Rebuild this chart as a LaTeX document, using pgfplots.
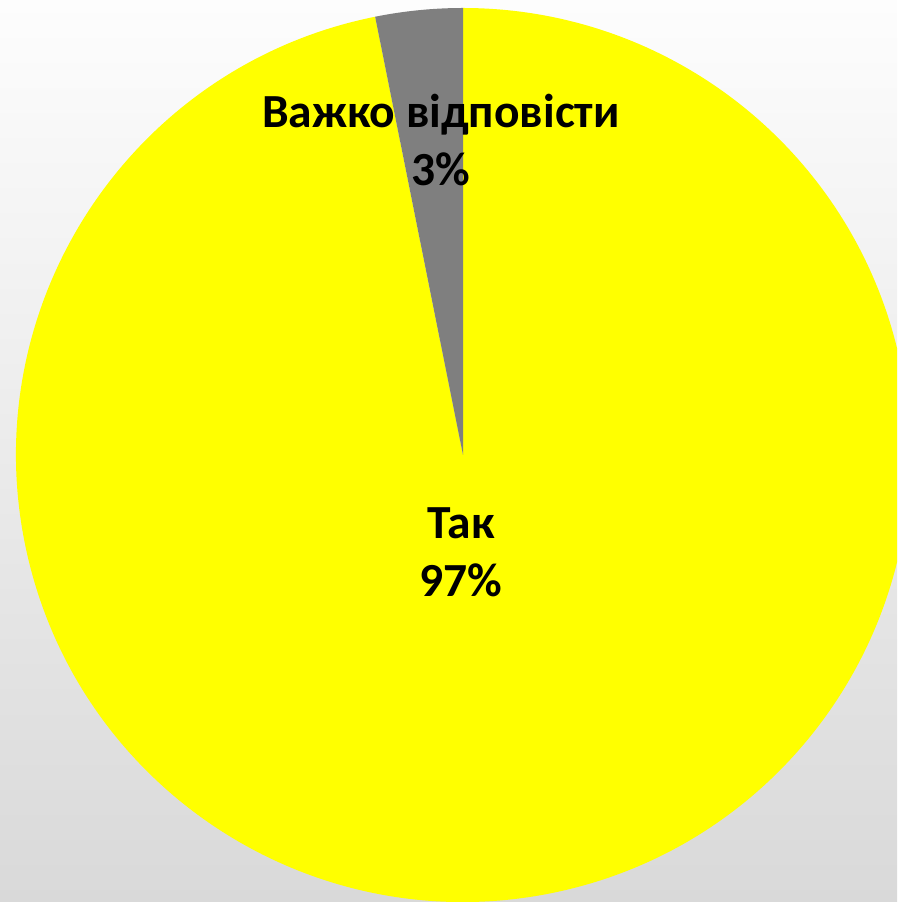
\documentclass[border=0pt]{standalone}
\usepackage{pgfplots}
\pgfplotsset{compat=1.18}
\usepackage{pgfplotstable}
\usepackage{fontspec}
\setmainfont{Carlito}
\definecolor{pieyellow}{HTML}{FFFF00}
\definecolor{piegray}{HTML}{7F7F7F}
\definecolor{bgtop}{HTML}{FDFDFD}
\definecolor{bgbot}{HTML}{D9D9D9}
\pgfplotstableread{
value
96.85
3.15
}\piedata
\begin{document}
\begin{tikzpicture}
\pgfplotstablegetelem{0}{value}\of\piedata \let\valA\pgfplotsretval
\pgfplotstablegetelem{1}{value}\of\piedata \let\valB\pgfplotsretval
\pgfmathsetmacro{\angB}{\valB/(\valA+\valB)*360}
\begin{axis}[
  x=1pt, y=1pt,
  xmin=-463, xmax=434, ymin=-447, ymax=455,
  axis lines=none,
  at={(0,0)}, anchor=south west,
  clip=true,
  axis background/.style={shade, top color=bgtop, bottom color=bgbot},
]
\fill[pieyellow] (axis cs:0,0) -- ++(90+\angB:447pt) arc[start angle=90+\angB, end angle=450, radius=447pt] -- cycle;
\fill[piegray] (axis cs:0,0) -- ++(90:447pt) arc[start angle=90, end angle=90+\angB, radius=447pt] -- cycle;
\node[align=center, font=\fontsize{47.5}{58}\selectfont\bfseries] at (axis cs:-2,-97) {Так\\97\%};
\node[align=center, font=\fontsize{47.5}{58}\selectfont\bfseries] at (axis cs:-22,315) {Важко відповісти\\3\%};
\end{axis}
\end{tikzpicture}
\end{document}
